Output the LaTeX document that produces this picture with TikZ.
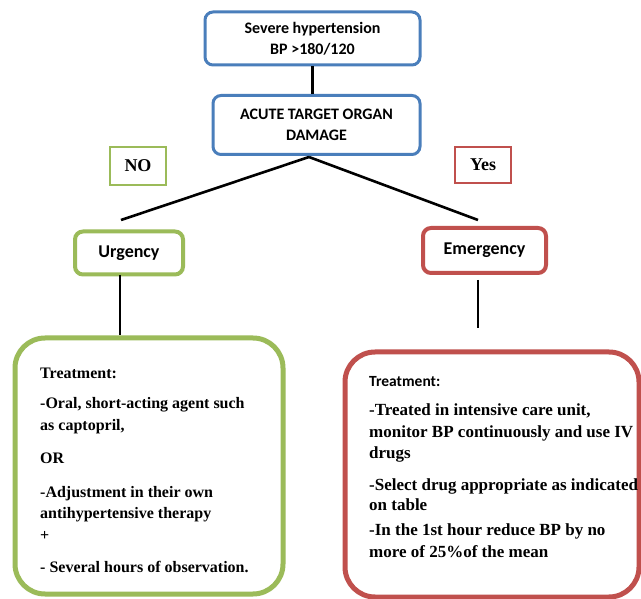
\documentclass[tikz,border=0pt]{standalone}
\usepackage{fontspec}
\setmainfont{Liberation Serif}
\newfontfamily\carl{Carlito}
\definecolor{bblue}{HTML}{4A7EBB}
\definecolor{ggreen}{HTML}{9BBB59}
\definecolor{rred}{HTML}{C0504D}
\begin{document}
\begin{tikzpicture}[x=1pt,y=-1pt,
  sbox/.style={draw, rounded corners=8pt, fill=white, inner sep=0pt, align=center,
    font=\carl\bfseries\fontsize{16}{21}\selectfont},
  tbox/.style={draw, fill=white, inner sep=0pt, align=center,
    font=\bfseries\fontsize{18}{21}\selectfont},
  bigbox/.style={draw, rounded corners=30pt, inner sep=0pt, line width=5pt},
  conn/.style={draw=black, line width=2.6pt},
  ltxt/.style={anchor=base west, inner sep=0pt, font=\bfseries\fontsize{16}{20}\selectfont},
  rtxt/.style={anchor=base west, inner sep=0pt, font=\bfseries\fontsize{17}{20}\selectfont},
  rhead/.style={anchor=base west, inner sep=0pt, font=\carl\bfseries\fontsize{15.5}{20}\selectfont}]
\useasboundingbox (0,0) rectangle (641,599);
\fill[white] (0,0) rectangle (641,599);

% boxes
\node[sbox, draw=bblue, line width=3pt, minimum width=215pt, minimum height=53pt] (top) at (312.5,38.5) {Severe hypertension\\BP >180/120};
\node[sbox, draw=bblue, line width=3pt, minimum width=207pt, minimum height=59pt] (dmg) at (316.5,125) {ACUTE TARGET ORGAN\\DAMAGE};
\node[tbox, draw=ggreen, line width=2.5pt, minimum width=56pt, minimum height=38pt] (no) at (138,166) {NO};
\node[tbox, draw=rred, line width=2.5pt, minimum width=56pt, minimum height=36pt] (yes) at (483,165) {Yes};
\node[sbox, draw=ggreen, line width=4pt, minimum width=108pt, minimum height=43pt, font=\carl\bfseries\fontsize{18}{21}\selectfont] (urg) at (129,253) {Urgency};
\node[sbox, draw=rred, line width=4pt, minimum width=123pt, minimum height=45pt, font=\carl\bfseries\fontsize{18}{21}\selectfont] (emg) at (484.5,250.5) {Emergency};
\node[bigbox, draw=ggreen, minimum width=268pt, minimum height=256pt] (lbox) at (149,466) {};
\node[bigbox, draw=rred, minimum width=294pt, minimum height=245pt] (rbox) at (492,474.5) {};

% connectors
\coordinate (apex) at (309,157);
\coordinate (uend) at (121,220);
\coordinate (eend) at (478,220);
\coordinate (u1) at (120,275);
\coordinate (e1) at (478,280);
\coordinate (e2) at (478,328);
\draw[conn] (top.south) -- (top.south |- dmg.north);
\draw[conn] (apex) -- (uend);
\draw[conn] (apex) -- (eend);
\draw[conn] (u1) -- (u1 |- lbox.north);
\draw[conn] (e1) -- (e2);

% left text
\node[ltxt] (l1) at (40,378) {Treatment:};
\node[ltxt] (l2) at (40,408) {-Oral, short-acting agent such};
\node[ltxt] (l3) at (40,430) {as captopril,};
\node[ltxt] (l4) at (40,463) {OR};
\node[ltxt] (l5) at (40,497) {-Adjustment in their own};
\node[ltxt] (l6) at (40,518) {antihypertensive therapy};
\node[ltxt] (l7) at (40,540) {+};
\node[ltxt] (l8) at (40,572) {- Several hours of observation.};

% right text
\node[rhead] (r1) at (369,387) {Treatment:};
\node[rtxt] (r2) at (369,415) {-Treated in intensive care unit,};
\node[rtxt] (r3) at (369,437) {monitor BP continuously and use IV};
\node[rtxt] (r4) at (369,458) {drugs};
\node[rtxt] (r5) at (369,490) {-Select drug appropriate as indicated};
\node[rtxt] (r6) at (369,510) {on table};
\node[rtxt] (r7) at (369,535) {-In the 1st hour reduce BP by no};
\node[rtxt] (r8) at (369,557) {more of 25\%of the mean};
\end{tikzpicture}
\end{document}
